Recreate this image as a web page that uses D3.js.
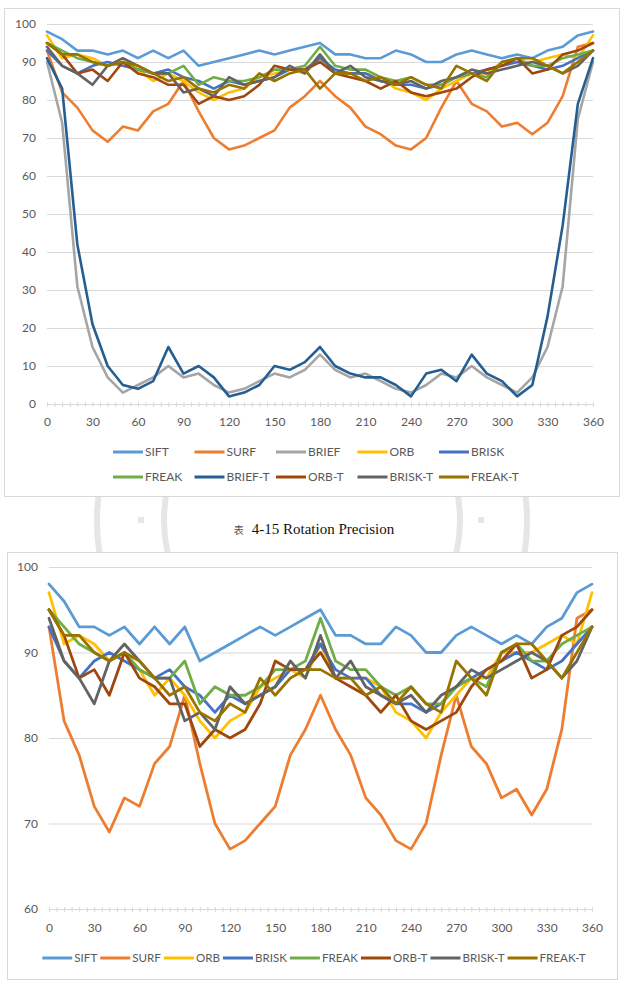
<!DOCTYPE html>
<html>
<head>
<meta charset="utf-8">
<script src="https://cdn.jsdelivr.net/npm/d3@7"></script>
<style>
  html, body { margin: 0; padding: 0; background: #fff; }
  svg { display: block; }
  text { font-family: Lato, 'Open Sans', sans-serif; }
</style>
</head>
<body>
<div id="page"></div>
<script>
// rotation angle (degrees), one category every 10
const angles = [0, 10, 20, 30, 40, 50, 60, 70, 80, 90, 100, 110, 120, 130, 140, 150, 160, 170, 180,
  190, 200, 210, 220, 230, 240, 250, 260, 270, 280, 290, 300, 310, 320, 330, 340, 350, 360]

const sift = [98, 96, 93, 93, 92, 93, 91, 93, 91, 93, 89, 90, 91, 92, 93, 92, 93, 94, 95,
  92, 92, 91, 91, 93, 92, 90, 90, 92, 93, 92, 91, 92, 91, 93, 94, 97, 98]
const surf = [93, 82, 78, 72, 69, 73, 72, 77, 79, 85, 77, 70, 67, 68, 70, 72, 78, 81, 85,
  81, 78, 73, 71, 68, 67, 70, 78, 85, 79, 77, 73, 74, 71, 74, 81, 94, 95]
const brief = [90, 74, 31, 15, 7, 3, 5, 7, 10, 7, 8, 5, 3, 4, 6, 8, 7, 9, 13,
  9, 7, 8, 6, 4, 3, 5, 8, 7, 10, 7, 5, 3, 7, 15, 31, 75, 90]
const orb = [97, 91, 92, 91, 89, 90, 88, 85, 87, 85, 82, 80, 82, 83, 86, 87, 88, 87, 91,
  87, 87, 87, 86, 83, 82, 80, 83, 85, 87, 87, 90, 90, 90, 91, 92, 91, 97]
const brisk = [93, 89, 87, 89, 90, 89, 88, 87, 88, 86, 85, 83, 85, 84, 85, 86, 88, 88, 91,
  88, 87, 87, 85, 84, 84, 83, 84, 86, 87, 88, 89, 90, 89, 88, 89, 91, 93]
const freak = [95, 93, 91, 90, 89, 90, 88, 87, 87, 89, 84, 86, 85, 85, 86, 88, 88, 89, 94,
  89, 88, 88, 86, 85, 86, 84, 84, 86, 87, 86, 90, 91, 89, 89, 91, 92, 93]
const briefT = [91, 83, 42, 21, 10, 5, 4, 6, 15, 8, 10, 7, 2, 3, 5, 10, 9, 11, 15,
  10, 8, 7, 7, 5, 2, 8, 9, 6, 13, 8, 6, 2, 5, 23, 47, 79, 91]
const orbT = [95, 92, 87, 88, 85, 90, 87, 86, 84, 84, 79, 81, 80, 81, 84, 89, 88, 88, 90,
  87, 86, 85, 83, 85, 82, 81, 82, 83, 86, 88, 89, 91, 87, 88, 92, 93, 95]
const briskT = [94, 89, 87, 84, 89, 91, 89, 87, 87, 82, 83, 81, 86, 84, 85, 86, 89, 87, 92,
  87, 89, 86, 85, 84, 85, 83, 85, 86, 88, 87, 88, 89, 90, 89, 87, 89, 93]
// FREAK-T as plotted in the upper chart (dips at 180) and in the lower chart
const freakTTop = [95, 92, 92, 90, 89, 90, 89, 87, 85, 86, 83, 82, 84, 83, 87, 85, 87, 88, 83,
  87, 87, 85, 86, 84, 86, 84, 83, 89, 87, 85, 90, 91, 91, 89, 87, 90, 93]
const freakT = [95, 92, 92, 90, 89, 90, 89, 87, 85, 86, 83, 82, 84, 83, 87, 85, 87, 88, 88,
  87, 87, 85, 86, 84, 86, 84, 83, 89, 87, 85, 90, 91, 91, 89, 87, 90, 93]

const xTicks = [0, 30, 60, 90, 120, 150, 180, 210, 240, 270, 300, 330, 360]
const yTicksTop = [0, 10, 20, 30, 40, 50, 60, 70, 80, 90, 100]
const yTicksBottom = [60, 70, 80, 90, 100]
const caption = '4-15 Rotation Precision'

// Excel office palette
const colors = {
  'SIFT': '#5B9BD5', 'SURF': '#ED7D31', 'BRIEF': '#A5A5A5', 'ORB': '#FFC000', 'BRISK': '#4472C4',
  'FREAK': '#70AD47', 'BRIEF-T': '#255E91', 'ORB-T': '#9E480E', 'BRISK-T': '#636363', 'FREAK-T': '#997300'
}

const topSeries = [
  ['SIFT', sift], ['SURF', surf], ['BRIEF', brief], ['ORB', orb], ['BRISK', brisk],
  ['FREAK', freak], ['BRIEF-T', briefT], ['ORB-T', orbT], ['BRISK-T', briskT], ['FREAK-T', freakTTop]
].map(([name, values]) => ({ name, values, color: colors[name] }))

const bottomSeries = [
  ['SIFT', sift], ['SURF', surf], ['ORB', orb], ['BRISK', brisk],
  ['FREAK', freak], ['ORB-T', orbT], ['BRISK-T', briskT], ['FREAK-T', freakT]
].map(([name, values]) => ({ name, values, color: colors[name] }))

const W = 624
const H = 990
const textColor = '#595959'
const gridColor = '#d9d9d9'

const svg = d3.select('#page').append('svg')
  .attr('width', W).attr('height', H).attr('viewBox', [0, 0, W, H])

// faint watermark seal behind the charts
const mark = svg.append('g').attr('fill', 'none').attr('stroke', '#e6e6e6').attr('stroke-width', 6)
mark.append('circle').attr('cx', 312).attr('cy', 520).attr('r', 215)
mark.append('circle').attr('cx', 312).attr('cy', 520).attr('r', 148)
mark.append('rect').attr('x', 138).attr('y', 517).attr('width', 6).attr('height', 6).attr('fill', '#e6e6e6').attr('stroke', 'none')
mark.append('rect').attr('x', 478).attr('y', 517).attr('width', 6).attr('height', 6).attr('fill', '#e6e6e6').attr('stroke', 'none')

function drawChart(cfg) {
  const g = svg.append('g')
  g.append('rect')
    .attr('x', cfg.frame[0] + 0.5).attr('y', cfg.frame[1] + 0.5)
    .attr('width', cfg.frame[2]).attr('height', cfg.frame[3])
    .attr('fill', '#fff').attr('stroke', gridColor)

  const x = d3.scaleLinear().domain([0, 360]).range([cfg.left, cfg.right])
  const y = d3.scaleLinear().domain(cfg.yDomain).range([cfg.bottom, cfg.top])

  // gridlines + y labels
  g.append('g')
    .attr('transform', `translate(${cfg.left},0)`)
    .call(d3.axisLeft(y).tickValues(cfg.yTicks).tickSize(-(cfg.right - cfg.left)).tickPadding(11))
    .call((a) => a.select('.domain').remove())
    .call((a) => a.selectAll('line').attr('stroke', gridColor))
    .call((a) => a.selectAll('text').attr('fill', textColor).attr('font-size', 12).attr('font-family', 'Lato'))

  // minor ticks along category axis
  g.append('g')
    .attr('transform', `translate(0,${cfg.bottom})`)
    .call(d3.axisBottom(x).ticks(72).tickSize(3).tickSizeOuter(0).tickFormat(''))
    .call((a) => a.selectAll('line').attr('stroke', gridColor).attr('y1', -2))
    .call((a) => a.select('.domain').attr('stroke', gridColor))

  g.append('g')
    .attr('transform', `translate(0,${cfg.bottom})`)
    .call(d3.axisBottom(x).tickValues(xTicks).tickSize(0).tickPadding(cfg.xPad))
    .call((a) => a.select('.domain').remove())
    .call((a) => a.selectAll('text').attr('fill', textColor).attr('font-size', 12).attr('font-family', 'Lato'))

  const line = d3.line()
    .x((d, i) => x(angles[i]))
    .y((d) => y(d))

  g.append('g')
    .attr('fill', 'none')
    .attr('stroke-width', cfg.lineWidth)
    .attr('stroke-linejoin', 'round')
    .attr('stroke-linecap', 'round')
    .selectAll('path')
    .data(cfg.series)
    .join('path')
    .attr('stroke', (d) => d.color)
    .attr('d', (d) => line(d.values))

  // legend
  const leg = g.append('g').attr('font-size', cfg.legendFont).attr('fill', textColor)
  if (cfg.legendCols) {
    cfg.series.forEach((s, i) => {
      const col = i % cfg.legendCols
      const row = Math.floor(i / cfg.legendCols)
      const lx = cfg.legendX + col * cfg.legendStep
      const ly = cfg.legendY + row * cfg.legendRowH
      leg.append('line').attr('x1', lx).attr('x2', lx + 30).attr('y1', ly).attr('y2', ly)
        .attr('stroke', s.color).attr('stroke-width', 3)
      leg.append('text').attr('x', lx + 32).attr('y', ly).attr('dy', '0.35em').text(s.name)
    })
  } else {
    const gap = 3
    const items = cfg.series.map((s) => {
      const it = leg.append('g')
      it.append('line').attr('x1', 0).attr('x2', 30).attr('y1', 0).attr('y2', 0)
        .attr('stroke', s.color).attr('stroke-width', 3)
      const t = it.append('text').attr('x', 32).attr('dy', '0.35em').text(s.name)
      return { it, w: 32 + t.node().getComputedTextLength() + gap }
    })
    const total = d3.sum(items, (d) => d.w) - gap
    let cx = cfg.legendCenter - total / 2
    items.forEach((d) => {
      d.it.attr('transform', `translate(${cx},${cfg.legendY})`)
      cx += d.w
    })
  }
}

drawChart({
  frame: [4, 8, 615, 488],
  left: 47, right: 593, top: 24, bottom: 404,
  yDomain: [0, 100], yTicks: yTicksTop, xPad: 13,
  series: topSeries,
  lineWidth: 2.6,
  legendFont: 12,
  legendCols: 5, legendX: 113, legendStep: 81.5, legendY: 452, legendRowH: 25
})

svg.append('text')
  .attr('x', 314).attr('y', 534)
  .attr('text-anchor', 'middle')
  .call((t) => t.append('tspan').attr('font-family', 'Noto Sans CJK TC').attr('font-size', 10).attr('fill', '#555').text('表'))
  .call((t) => t.append('tspan').attr('dx', 8).attr('font-family', 'Liberation Serif').attr('font-size', 15).attr('fill', '#111').text(caption))

drawChart({
  frame: [7, 552, 610, 427],
  left: 49, right: 592, top: 567, bottom: 909,
  yDomain: [60, 100], yTicks: yTicksBottom, xPad: 14,
  series: bottomSeries,
  lineWidth: 2.8,
  legendFont: 11.6,
  legendCenter: 314, legendY: 958
})
</script>
</body>
</html>
